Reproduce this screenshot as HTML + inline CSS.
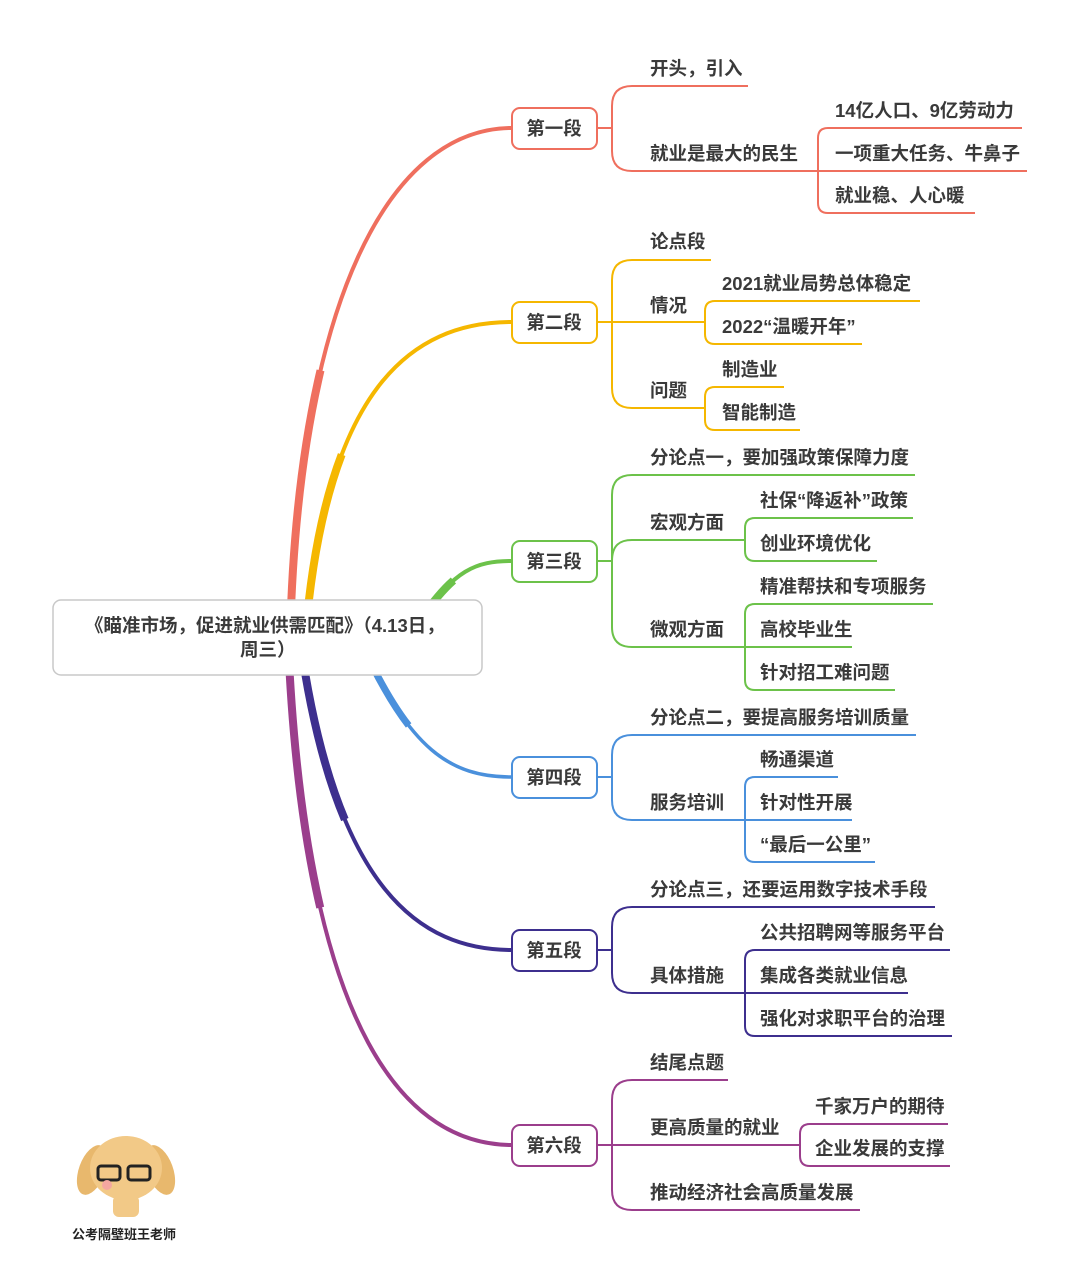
<!DOCTYPE html>
<html><head><meta charset="utf-8"><style>
html,body{margin:0;padding:0;background:#fff;}
svg text{font-family:"Liberation Sans","Noto Sans CJK SC",sans-serif;font-weight:bold;fill:#3a3a3a;font-size:18.5px;}
</style></head><body>
<svg width="1080" height="1262" viewBox="0 0 1080 1262" xmlns="http://www.w3.org/2000/svg">
<rect width="1080" height="1262" fill="#fff"/>
<g fill="none" stroke-linecap="butt">
<path d="M290 640 C298 300 390 128 512 128" stroke="#ef6f5e" stroke-width="4"/>
<path d="M290 640 C298 300 390 128 512 128" stroke="#ef6f5e" stroke-width="8" pathLength="100" stroke-dasharray="45 200"/>
<path d="M305 640 C325 390 410 322 512 322" stroke="#f5b700" stroke-width="4"/>
<path d="M305 640 C325 390 410 322 512 322" stroke="#f5b700" stroke-width="8" pathLength="100" stroke-dasharray="45 200"/>
<path d="M420 620 C455 570 475 561 512 561" stroke="#6cc24a" stroke-width="4"/>
<path d="M420 620 C455 570 475 561 512 561" stroke="#6cc24a" stroke-width="8" pathLength="100" stroke-dasharray="45 200"/>
<path d="M360 640 C410 750 450 777 512 777" stroke="#4a90dc" stroke-width="3.5"/>
<path d="M360 640 C410 750 450 777 512 777" stroke="#4a90dc" stroke-width="7" pathLength="100" stroke-dasharray="45 200"/>
<path d="M300 640 C335 890 420 950 512 950" stroke="#3d2f8e" stroke-width="4"/>
<path d="M300 640 C335 890 420 950 512 950" stroke="#3d2f8e" stroke-width="8" pathLength="100" stroke-dasharray="45 200"/>
<path d="M288 640 C305 1040 410 1145 512 1145" stroke="#9b3e8c" stroke-width="4"/>
<path d="M288 640 C305 1040 410 1145 512 1145" stroke="#9b3e8c" stroke-width="8" pathLength="100" stroke-dasharray="45 200"/>
</g>
<g fill="none" stroke-width="2">
<g stroke="#ef6f5e">
<path d="M597 128 H612 M612 128 V106 Q612 86 632 86 H748 M612 128 V151 Q612 171 632 171 H818"/>
<path d="M818 171 V138 Q818 128 828 128 H1022 M818 171 H1027 M818 171 V203 Q818 213 828 213 H975"/>
</g>
<g stroke="#f5b700">
<path d="M597 322 H612 M612 322 V280 Q612 260 632 260 H711 M612 322 H705 M612 322 V388 Q612 408 632 408 H705"/>
<path d="M705 323 V311 Q705 301 715 301 H920 M705 323 V334 Q705 344 715 344 H862"/>
<path d="M705 408 V397 Q705 387 715 387 H784 M705 408 V420 Q705 430 715 430 H800"/>
</g>
<g stroke="#6cc24a">
<path d="M597 561 H612 M612 561 V495 Q612 475 632 475 H915 M612 561 C612 545 620 540 632 540 H745 M612 561 V627 Q612 647 632 647 H745"/>
<path d="M745 540 V528 Q745 518 755 518 H913 M745 540 V551 Q745 561 755 561 H877"/>
<path d="M745 647 V614 Q745 604 755 604 H933 M745 647 H852 M745 647 V680 Q745 690 755 690 H895"/>
</g>
<g stroke="#4a90dc">
<path d="M597 777 H612 M612 777 V755 Q612 735 632 735 H916 M612 777 V800 Q612 820 632 820 H745"/>
<path d="M745 820 V787 Q745 777 755 777 H838 M745 820 H852 M745 820 V852 Q745 862 755 862 H875"/>
</g>
<g stroke="#3d2f8e">
<path d="M597 950 H612 M612 950 V927 Q612 907 632 907 H935 M612 950 V973 Q612 993 632 993 H745"/>
<path d="M745 993 V960 Q745 950 755 950 H950 M745 993 H908 M745 993 V1026 Q745 1036 755 1036 H952"/>
</g>
<g stroke="#9b3e8c">
<path d="M597 1145 H800 M612 1145 V1100 Q612 1080 632 1080 H728 M612 1145 V1190 Q612 1210 632 1210 H860"/>
<path d="M800 1145 V1134 Q800 1124 810 1124 H948 M800 1145 V1156 Q800 1166 810 1166 H950"/>
</g>
</g>
<rect x="53" y="600" width="429" height="75" rx="8" fill="#fff" stroke="#c8c8c8" stroke-width="1.5"/>
<text x="85" y="632" style="font-size:18.5px">《瞄准市场，促进就业供需匹配》（4.13日，</text>
<text x="240" y="656" style="font-size:18.5px">周三）</text>
<g fill="#fff" stroke-width="2">
<rect x="512" y="108" width="85" height="41" rx="8" stroke="#ef6f5e"/>
<rect x="512" y="302" width="85" height="41" rx="8" stroke="#f5b700"/>
<rect x="512" y="541" width="85" height="41" rx="8" stroke="#6cc24a"/>
<rect x="512" y="757" width="85" height="41" rx="8" stroke="#4a90dc"/>
<rect x="512" y="930" width="85" height="41" rx="8" stroke="#3d2f8e"/>
<rect x="512" y="1125" width="85" height="41" rx="8" stroke="#9b3e8c"/>
</g>
<g text-anchor="middle">
<text x="554" y="135">第一段</text>
<text x="554" y="329">第二段</text>
<text x="554" y="568">第三段</text>
<text x="554" y="784">第四段</text>
<text x="554" y="957">第五段</text>
<text x="554" y="1152">第六段</text>
</g>
<text x="650" y="75">开头，引入</text>
<text x="650" y="160">就业是最大的民生</text>
<text x="835" y="117">14亿人口、9亿劳动力</text>
<text x="835" y="160">一项重大任务、牛鼻子</text>
<text x="835" y="202">就业稳、人心暖</text>
<text x="650" y="248">论点段</text>
<text x="650" y="312">情况</text>
<text x="650" y="397">问题</text>
<text x="722" y="290">2021就业局势总体稳定</text>
<text x="722" y="333">2022“温暖开年”</text>
<text x="722" y="376">制造业</text>
<text x="722" y="419">智能制造</text>
<text x="650" y="464">分论点一，要加强政策保障力度</text>
<text x="650" y="529">宏观方面</text>
<text x="650" y="636">微观方面</text>
<text x="760" y="507">社保“降返补”政策</text>
<text x="760" y="550">创业环境优化</text>
<text x="760" y="593">精准帮扶和专项服务</text>
<text x="760" y="636">高校毕业生</text>
<text x="760" y="679">针对招工难问题</text>
<text x="650" y="724">分论点二，要提高服务培训质量</text>
<text x="650" y="809">服务培训</text>
<text x="760" y="766">畅通渠道</text>
<text x="760" y="809">针对性开展</text>
<text x="760" y="851">“最后一公里”</text>
<text x="650" y="896">分论点三，还要运用数字技术手段</text>
<text x="650" y="982">具体措施</text>
<text x="760" y="939">公共招聘网等服务平台</text>
<text x="760" y="982">集成各类就业信息</text>
<text x="760" y="1025">强化对求职平台的治理</text>
<text x="650" y="1069">结尾点题</text>
<text x="650" y="1134">更高质量的就业</text>
<text x="650" y="1199">推动经济社会高质量发展</text>
<text x="815" y="1113">千家万户的期待</text>
<text x="815" y="1155">企业发展的支撑</text>
<g>
<ellipse cx="92" cy="1170" rx="13" ry="26" fill="#e8b86d" transform="rotate(20 92 1170)"/>
<ellipse cx="160" cy="1170" rx="13" ry="26" fill="#e8b86d" transform="rotate(-20 160 1170)"/>
<ellipse cx="126" cy="1168" rx="36" ry="32" fill="#f2c987"/>
<rect x="113" y="1195" width="26" height="22" rx="6" fill="#f2c987"/>
<rect x="98" y="1166" width="22" height="14" rx="3" fill="none" stroke="#222" stroke-width="3"/>
<rect x="128" y="1166" width="22" height="14" rx="3" fill="none" stroke="#222" stroke-width="3"/>
<circle cx="107" cy="1185" r="5" fill="#f4a7a0"/>
</g>
<text x="72" y="1239" style="font-size:13px;fill:#222">公考隔壁班王老师</text>
</svg>
</body></html>
